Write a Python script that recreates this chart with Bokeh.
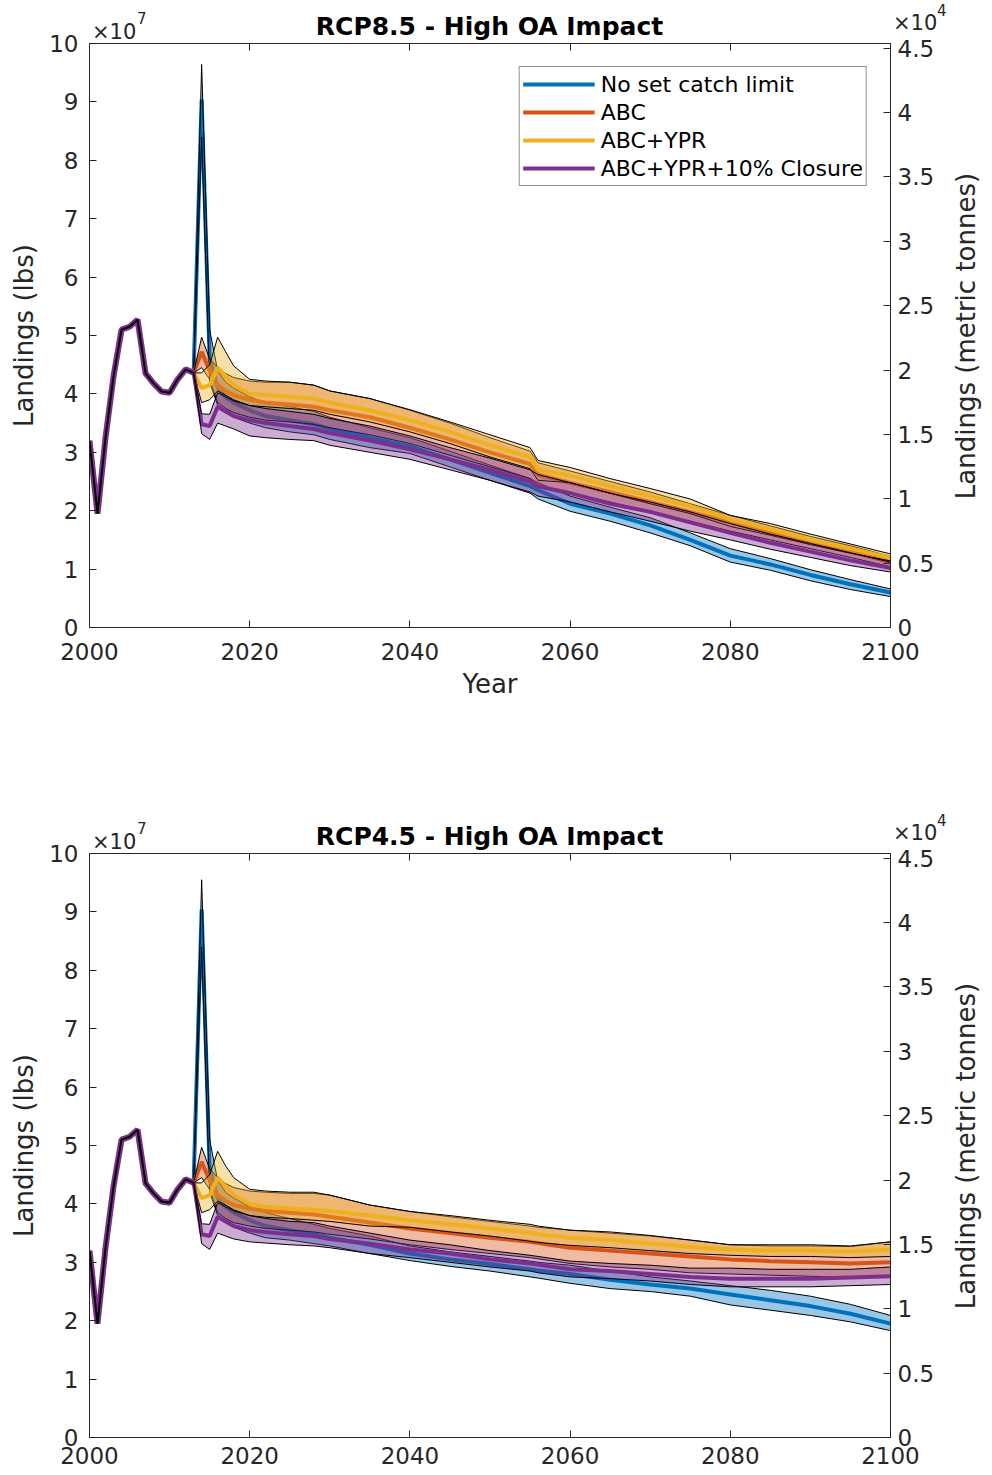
import math
from bokeh.plotting import figure
from bokeh.models import (Range1d, LinearAxis, FixedTicker, CustomJSTickFormatter,
                          Legend, LegendItem, Div)
from bokeh.layouts import column, row
from bokeh.embed import file_html
from bokeh.resources import INLINE

# ---------------- data (landings, lbs x 1e7) ----------------
hist_years = [2000, 2001, 2002, 2003, 2004, 2005, 2006, 2007, 2008, 2009, 2010, 2011, 2012, 2013]
hist_vals = [3.20, 1.95, 3.25, 4.30, 5.10, 5.15, 5.27, 4.35, 4.18, 4.04, 4.02, 4.25, 4.42, 4.36]

proj_years = [2013, 2014, 2015, 2016, 2017, 2018, 2020, 2022, 2025, 2028, 2030, 2035, 2040,
              2045, 2050, 2055, 2056, 2060, 2065, 2070, 2075, 2080, 2085, 2090, 2095, 2100]

scenario_names = ["No set catch limit", "ABC", "ABC+YPR", "ABC+YPR+10% Closure"]
titles = ["RCP8.5 - High OA Impact", "RCP4.5 - High OA Impact"]
left_label = "Landings (lbs)"
right_label = "Landings (metric tonnes)"
x_label = "Year"

# RCP8.5
r85_none_mean = [4.36, 9.04, 4.60, 4.10, 3.95, 3.85, 3.72, 3.62, 3.55, 3.48, 3.40, 3.25, 3.10,
                 2.88, 2.65, 2.42, 2.35, 2.12, 1.95, 1.75, 1.50, 1.23, 1.08, 0.90, 0.74, 0.60]
r85_none_lo = [4.36, 8.40, 4.20, 3.80, 3.70, 3.60, 3.50, 3.42, 3.35, 3.30, 3.22, 3.08, 2.98,
               2.75, 2.52, 2.30, 2.20, 1.99, 1.82, 1.62, 1.40, 1.12, 0.98, 0.80, 0.65, 0.53]
r85_none_hi = [4.36, 9.64, 5.10, 4.40, 4.20, 4.10, 3.95, 3.85, 3.78, 3.70, 3.60, 3.42, 3.25,
               3.02, 2.78, 2.55, 2.48, 2.25, 2.06, 1.88, 1.62, 1.35, 1.18, 0.99, 0.82, 0.66]

r85_abc_mean = [4.36, 4.72, 4.40, 4.15, 4.05, 3.98, 3.90, 3.85, 3.82, 3.78, 3.72, 3.60, 3.42,
                3.22, 3.00, 2.80, 2.62, 2.48, 2.32, 2.15, 1.98, 1.80, 1.62, 1.45, 1.30, 1.12]
r85_abc_lo = [4.36, 4.45, 4.25, 3.85, 3.75, 3.68, 3.60, 3.55, 3.52, 3.48, 3.42, 3.30, 3.15,
              2.95, 2.75, 2.55, 2.42, 2.30, 2.15, 1.98, 1.82, 1.65, 1.50, 1.35, 1.20, 1.04]
r85_abc_hi = [4.36, 4.97, 4.60, 4.45, 4.35, 4.28, 4.22, 4.20, 4.20, 4.15, 4.05, 3.92, 3.72,
              3.50, 3.25, 3.02, 2.82, 2.68, 2.50, 2.32, 2.12, 1.92, 1.74, 1.56, 1.40, 1.22]

r85_ypr_mean = [4.36, 4.10, 4.15, 4.45, 4.30, 4.15, 4.00, 3.98, 3.95, 3.92, 3.85, 3.72, 3.55,
                3.35, 3.12, 2.92, 2.70, 2.60, 2.42, 2.25, 2.08, 1.85, 1.68, 1.50, 1.35, 1.20]
r85_ypr_lo = [4.36, 3.85, 3.90, 4.05, 3.98, 3.90, 3.80, 3.78, 3.75, 3.72, 3.65, 3.52, 3.35,
              3.15, 2.92, 2.72, 2.52, 2.48, 2.30, 2.12, 1.95, 1.73, 1.58, 1.42, 1.27, 1.14]
r85_ypr_hi = [4.36, 4.36, 4.50, 4.97, 4.72, 4.48, 4.25, 4.22, 4.20, 4.15, 4.05, 3.92, 3.73,
              3.52, 3.30, 3.08, 2.86, 2.74, 2.55, 2.38, 2.20, 1.92, 1.78, 1.60, 1.43, 1.26]

r85_clo_mean = [4.36, 3.48, 3.45, 3.78, 3.70, 3.62, 3.55, 3.50, 3.45, 3.40, 3.33, 3.20, 3.05,
                2.88, 2.70, 2.50, 2.42, 2.30, 2.12, 1.98, 1.80, 1.62, 1.45, 1.30, 1.15, 1.02]
r85_clo_lo = [4.36, 3.32, 3.22, 3.50, 3.45, 3.40, 3.28, 3.25, 3.22, 3.20, 3.12, 3.00, 2.88,
              2.70, 2.52, 2.32, 2.25, 2.15, 1.98, 1.82, 1.65, 1.50, 1.34, 1.20, 1.06, 0.95]
r85_clo_hi = [4.36, 3.66, 3.65, 4.02, 3.95, 3.88, 3.80, 3.75, 3.70, 3.65, 3.58, 3.45, 3.28,
              3.08, 2.90, 2.70, 2.62, 2.48, 2.30, 2.15, 1.98, 1.78, 1.60, 1.44, 1.28, 1.12]

# RCP4.5
r45_none_mean = [4.36, 9.04, 4.60, 4.10, 3.95, 3.85, 3.72, 3.62, 3.55, 3.48, 3.42, 3.30, 3.15,
                 3.05, 2.97, 2.88, 2.86, 2.80, 2.70, 2.62, 2.55, 2.45, 2.35, 2.25, 2.12, 1.95]
r45_none_lo = [4.36, 8.40, 4.20, 3.80, 3.70, 3.60, 3.50, 3.42, 3.38, 3.32, 3.28, 3.15, 3.03,
               2.93, 2.85, 2.75, 2.73, 2.64, 2.55, 2.50, 2.42, 2.27, 2.18, 2.09, 1.98, 1.83]
r45_none_hi = [4.36, 9.55, 5.10, 4.40, 4.20, 4.10, 3.95, 3.85, 3.75, 3.65, 3.58, 3.45, 3.28,
               3.18, 3.10, 3.02, 3.00, 2.95, 2.85, 2.75, 2.68, 2.60, 2.52, 2.42, 2.28, 2.09]

r45_abc_mean = [4.36, 4.72, 4.40, 4.15, 4.05, 3.98, 3.92, 3.88, 3.85, 3.82, 3.78, 3.68, 3.58,
                3.50, 3.42, 3.35, 3.33, 3.25, 3.20, 3.15, 3.10, 3.05, 3.02, 3.00, 2.98, 3.00]
r45_abc_lo = [4.36, 4.45, 4.25, 3.85, 3.75, 3.68, 3.62, 3.58, 3.55, 3.52, 3.48, 3.40, 3.30,
              3.22, 3.15, 3.08, 3.06, 2.98, 2.92, 2.88, 2.82, 2.80, 2.78, 2.76, 2.74, 2.74]
r45_abc_hi = [4.36, 4.97, 4.60, 4.45, 4.35, 4.28, 4.22, 4.20, 4.18, 4.18, 4.15, 3.98, 3.87,
              3.78, 3.70, 3.62, 3.60, 3.55, 3.50, 3.45, 3.38, 3.30, 3.28, 3.28, 3.27, 3.35]

r45_ypr_mean = [4.36, 4.10, 4.15, 4.45, 4.30, 4.15, 4.00, 3.95, 3.92, 3.90, 3.88, 3.80, 3.72,
                3.65, 3.58, 3.50, 3.48, 3.42, 3.38, 3.32, 3.26, 3.22, 3.20, 3.20, 3.18, 3.22]
r45_ypr_lo = [4.36, 3.85, 3.90, 4.05, 3.98, 3.90, 3.80, 3.77, 3.75, 3.72, 3.70, 3.62, 3.60,
              3.52, 3.45, 3.36, 3.34, 3.29, 3.25, 3.20, 3.15, 3.12, 3.10, 3.10, 3.08, 3.10]
r45_ypr_hi = [4.36, 4.36, 4.50, 4.90, 4.65, 4.45, 4.25, 4.22, 4.20, 4.20, 4.15, 3.98, 3.87,
              3.80, 3.72, 3.65, 3.62, 3.55, 3.52, 3.46, 3.38, 3.30, 3.30, 3.30, 3.28, 3.35]

r45_clo_mean = [4.36, 3.48, 3.45, 3.78, 3.70, 3.62, 3.55, 3.52, 3.48, 3.45, 3.40, 3.32, 3.22,
                3.15, 3.05, 2.98, 2.96, 2.88, 2.85, 2.80, 2.75, 2.72, 2.72, 2.72, 2.74, 2.76]
r45_clo_lo = [4.36, 3.32, 3.22, 3.50, 3.45, 3.40, 3.35, 3.33, 3.30, 3.28, 3.25, 3.15, 3.08,
              3.00, 2.92, 2.85, 2.82, 2.75, 2.72, 2.68, 2.62, 2.58, 2.58, 2.58, 2.60, 2.62]
r45_clo_hi = [4.36, 3.66, 3.65, 4.02, 3.95, 3.88, 3.80, 3.75, 3.70, 3.68, 3.62, 3.50, 3.38,
              3.30, 3.20, 3.12, 3.10, 3.02, 2.98, 2.95, 2.90, 2.90, 2.88, 2.88, 2.88, 2.92]

left_ticks = [0, 1, 2, 3, 4, 5, 6, 7, 8, 9, 10]
right_ticks = [0, 0.5, 1, 1.5, 2, 2.5, 3, 3.5, 4, 4.5]
x_ticks = [2000, 2020, 2040, 2060, 2080, 2100]

colors = ["#0072BD", "#D95319", "#EDB120", "#7E2F8E"]
FONT = "DejaVu Sans"
AX = "#262626"
LBS_TO_T4 = 0.45359237 * 1e7 / 1000 / 1e4   # 1 unit (1e7 lbs) in units of 1e4 tonnes

FW, FH = 801, 584
LEFT, RIGHT = 89, 50
HEAD = 30        # header div height
TOPB = 13        # min top border (renders as +1)
RDIV_W = 45


def style_axis(ax, size="23px"):
    ax.axis_line_color = AX
    ax.major_tick_line_color = AX
    ax.major_tick_in = 7
    ax.major_tick_out = 0
    ax.minor_tick_line_color = None
    ax.major_label_text_font = FONT
    ax.major_label_text_font_size = size
    ax.major_label_text_color = AX
    ax.axis_label_text_font = FONT
    ax.axis_label_text_font_size = "26px"
    ax.axis_label_text_font_style = "normal"
    ax.axis_label_text_color = AX


def header(title):
    W = LEFT + FW + RIGHT + RDIV_W
    html = (
        f'<div style="position:relative;width:{W}px;height:{HEAD}px;overflow:visible;'
        f'font-family:\'DejaVu Sans\';color:#262626;">'
        f'<span style="position:absolute;left:{LEFT}px;width:{FW}px;top:14px;line-height:25px;'
        f'font-size:25px;font-weight:bold;text-align:center;color:#000;white-space:nowrap;">{title}</span>'
        f'<span style="position:absolute;left:92px;top:22px;line-height:21px;font-size:21px;white-space:nowrap;">&#215;10</span>'
        f'<span style="position:absolute;left:137px;top:12px;line-height:15px;font-size:15px;">7</span>'
        f'<span style="position:absolute;left:893px;top:13px;line-height:21px;font-size:21px;white-space:nowrap;">&#215;10</span>'
        f'<span style="position:absolute;left:937px;top:4px;line-height:15px;font-size:15px;">4</span>'
        '</div>'
    )
    return Div(text=html, width=W, height=HEAD, margin=0, styles={"overflow": "visible", "z-index": "2"})


def right_title():
    cy = TOPB + 1 + FH // 2
    cx = 966 - (LEFT + FW + RIGHT)
    html = (
        f'<div style="position:relative;width:{RDIV_W}px;height:{FH + TOPB + 1}px;">'
        f'<span style="position:absolute;left:{cx - FH // 2}px;top:{cy - 15}px;width:{FH}px;'
        f'line-height:30px;height:30px;text-align:center;font-family:\'DejaVu Sans\';font-size:26px;'
        f'color:#262626;white-space:nowrap;transform:rotate(-90deg);transform-origin:50% 50%;">'
        f'{right_label}</span></div>'
    )
    return Div(text=html, width=RDIV_W, height=FH + TOPB + 1, margin=0,
               styles={"overflow": "visible"})


def panel(data, legend, xlabel, bb, tick_standoff):
    p = figure(frame_width=FW, frame_height=FH, x_range=Range1d(2000, 2100),
               y_range=Range1d(0, 10), output_backend="svg", toolbar_location=None,
               min_border_left=LEFT, min_border_right=RIGHT, min_border_top=TOPB,
               min_border_bottom=bb)
    p.grid.visible = False
    p.outline_line_color = AX
    p.outline_line_width = 1
    p.background_fill_color = "white"
    p.border_fill_alpha = 0

    p.xaxis.ticker = FixedTicker(ticks=x_ticks)
    p.yaxis.ticker = FixedTicker(ticks=left_ticks)
    style_axis(p.xaxis[0])
    style_axis(p.yaxis[0])
    p.xaxis.major_label_standoff = tick_standoff
    p.yaxis.major_label_standoff = 11
    p.yaxis.axis_label = left_label
    p.yaxis.axis_label_standoff = 7
    if xlabel:
        p.xaxis.axis_label = x_label
        p.xaxis.axis_label_standoff = 6

    top = LinearAxis(ticker=FixedTicker(ticks=x_ticks),
                     formatter=CustomJSTickFormatter(code="return '';"))
    style_axis(top)
    top.major_label_standoff = 0
    p.add_layout(top, "above")

    p.extra_y_ranges = {"t": Range1d(0, 10 * LBS_TO_T4)}
    right = LinearAxis(y_range_name="t", ticker=FixedTicker(ticks=right_ticks),
                       formatter=CustomJSTickFormatter(code="return tick.toString();"))
    style_axis(right)
    right.major_label_standoff = 7
    p.add_layout(right, "right")

    renderers = []
    for color, (m, lo, hi) in zip(colors, data):
        p.varea(x=proj_years, y1=lo, y2=hi, fill_color=color, fill_alpha=0.4)
        r = p.line(proj_years, m, line_color=color, line_width=4)
        p.line(proj_years, lo, line_color="black", line_width=1)
        p.line(proj_years, hi, line_color="black", line_width=1)
        renderers.append(r)
    p.line(hist_years, hist_vals, line_color=colors[3], line_width=6)
    p.line(hist_years, hist_vals, line_color="black", line_width=2)

    if legend:
        items = [LegendItem(label=n, renderers=[r]) for n, r in zip(scenario_names, renderers)]
        lg = Legend(items=items, location="top_right", margin=23, padding=3, spacing=0,
                    glyph_width=72, glyph_height=28, label_height=28, label_standoff=6,
                    label_text_font=FONT, label_text_font_size="22px",
                    label_text_color="black", border_line_color=AX, border_line_width=1,
                    background_fill_alpha=1.0)
        p.add_layout(lg)
    return p


data85 = [(r85_none_mean, r85_none_lo, r85_none_hi), (r85_abc_mean, r85_abc_lo, r85_abc_hi),
          (r85_ypr_mean, r85_ypr_lo, r85_ypr_hi), (r85_clo_mean, r85_clo_lo, r85_clo_hi)]
data45 = [(r45_none_mean, r45_none_lo, r45_none_hi), (r45_abc_mean, r45_abc_lo, r45_abc_hi),
          (r45_ypr_mean, r45_ypr_lo, r45_ypr_hi), (r45_clo_mean, r45_clo_lo, r45_clo_hi)]

p1 = panel(data85, True, True, 183, 15)
p2 = panel(data45, False, False, 30, 9)

layout = column(header(titles[0]), row(p1, right_title(), spacing=0),
                header(titles[1]), row(p2, right_title(), spacing=0), spacing=0)
open("out.html", "w").write(file_html(layout, INLINE))
